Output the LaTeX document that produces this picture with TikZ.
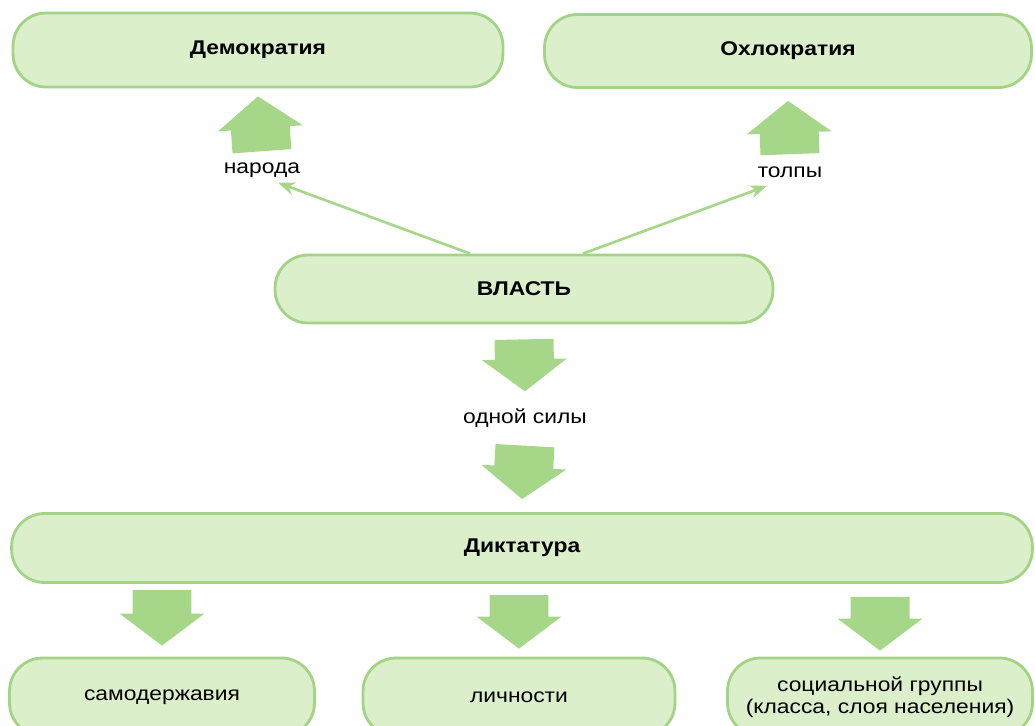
\documentclass[tikz,border=0pt]{standalone}
\usepackage{fontspec}
\setmainfont[FakeStretch=1.15]{Liberation Sans}
\usetikzlibrary{arrows.meta, calc}

\definecolor{boxfill}{RGB}{219,239,203}
\definecolor{boxline}{RGB}{163,212,134}
\definecolor{arrowfill}{RGB}{166,215,137}
\newcommand{\schemefont}{\fontsize{11.3}{12.6}\selectfont}

% block arrow from #1 (back) to #2 (tip)
\newcommand{\fatarrow}[2]{%
	\path (#1) coordinate (fa-s) (#2) coordinate (fa-t);
	\path ($(fa-t)!0.64cm!(fa-s)$) coordinate (fa-b);
	\fill[arrowfill] ($(fa-s)!0.59cm!90:(fa-t)$) -- ($(fa-b)!0.59cm!90:(fa-t)$)
		-- ($(fa-b)!0.85cm!90:(fa-t)$) -- (fa-t) -- ($(fa-b)!0.85cm!-90:(fa-t)$)
		-- ($(fa-b)!0.59cm!-90:(fa-t)$) -- ($(fa-s)!0.59cm!-90:(fa-t)$) -- cycle;
}

\tikzset{
	box/.style={draw=boxline, fill=boxfill, line width=1.6pt, rounded corners=0.66cm,
		inner sep=0pt, align=center, font=\schemefont},
	boxtitle/.style={box, font=\schemefont\bfseries},
	caption/.style={inner sep=0pt, font=\schemefont},
	pointer/.style={draw=arrowfill, line width=1.5pt,
		-{Stealth[length=0.34cm, width=0.26cm]}}
}

\begin{document}
\begin{tikzpicture}[x=0.02cm, y=-0.02cm]
			\useasboundingbox (0,0) rectangle (1035,726);
			
			% Forms of rule at the top
			\node[boxtitle, minimum width=9.8cm, minimum height=1.48cm] (demo) at (258,50) {Демократия};
			\node[boxtitle, minimum width=9.74cm, minimum height=1.46cm] (ochlo) at (788,51) {Охлократия};
			
			\node[caption] (narod) at (262,170) {народа};
			\node[caption] (tolpa) at (790,172) {толпы};
			
			% Power in the middle
			\node[boxtitle, minimum width=9.96cm, minimum height=1.36cm] (vlast) at (524,289) {ВЛАСТЬ};
			\node[caption] (odna) at (525,418) {одной силы};
			
			% Dictatorship and its kinds
			\node[boxtitle, minimum width=20.42cm, minimum height=1.38cm] (dikt) at (522,548) {Диктатура};
			
			\node[box, minimum width=6.1cm, minimum height=1.56cm] (samod) at (162,697) {самодержавия};
			\node[box, minimum width=6.24cm, minimum height=1.56cm] (lichn) at (519,697) {личности};
			\node[box, minimum width=6.1cm, minimum height=1.56cm] (social) at (880,697) {социальной группы\\(класса, слоя населения)};
			
			% Thin arrows from power to the people and the crowd
			\draw[pointer] ([xshift=-1.08cm]vlast.north) -- ([xshift=0.32cm,yshift=-0.1cm]narod.south);
			\draw[pointer] ([xshift=1.18cm]vlast.north) -- ([xshift=-0.46cm,yshift=-0.16cm]tolpa.south);
			
			% Block arrows
			\fatarrow{[yshift=0.22cm]narod.north}{[yshift=-0.16cm]demo.south}
			\fatarrow{[yshift=0.24cm]tolpa.north}{[yshift=-0.24cm]ochlo.south}
			\fatarrow{[yshift=-0.3cm]vlast.south}{[yshift=0.34cm]odna.north}
			\fatarrow{[yshift=-0.36cm]odna.south}{[yshift=0.26cm]dikt.north}
			
			\fatarrow{[yshift=-0.12cm]dikt.south -| samod}{[yshift=0.22cm]samod.north}
			\fatarrow{[yshift=-0.22cm]dikt.south -| lichn}{[yshift=0.16cm]lichn.north}
			\fatarrow{[yshift=-0.26cm]dikt.south -| social}{[yshift=0.12cm]social.north}
		\end{tikzpicture}
\end{document}
